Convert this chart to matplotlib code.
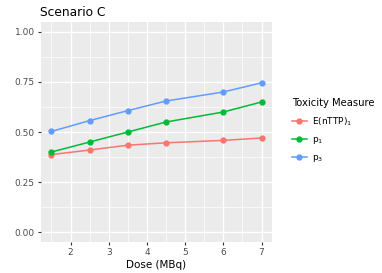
import matplotlib.pyplot as plt
from matplotlib.ticker import FixedLocator

# Data
dose = [1.5, 2.5, 3.5, 4.5, 6, 7]
e_nttp1 = [0.387, 0.410, 0.434, 0.446, 0.458, 0.470]
p1 = [0.400, 0.450, 0.500, 0.550, 0.600, 0.650]
p3 = [0.503, 0.557, 0.607, 0.655, 0.700, 0.746]

labels = [r"E(nTTP)$_1$", r"p$_1$", r"p$_3$"]
colors = ["#F8766D", "#00BA38", "#619CFF"]

fig = plt.figure(figsize=(3.82, 2.73), dpi=100)
ax = fig.add_axes([41 / 382, 31 / 273, 231 / 382, 220 / 273])

ax.set_facecolor("#EBEBEB")
for s in ax.spines.values():
    s.set_visible(False)

handles = []
for y, c, lab in zip([e_nttp1, p1, p3], colors, labels):
    h, = ax.plot(dose, y, color=c, lw=1.1, marker="o", markersize=3.5, label=lab, zorder=3)
    handles.append(h)

ax.set_xlim(1.225, 7.275)
ax.set_ylim(-0.05, 1.05)
ax.set_xticks([2, 3, 4, 5, 6, 7])
ax.set_yticks([0, 0.25, 0.5, 0.75, 1.0])
ax.set_yticklabels(["0.00", "0.25", "0.50", "0.75", "1.00"])
ax.xaxis.set_minor_locator(FixedLocator([1.5, 2.5, 3.5, 4.5, 5.5, 6.5]))
ax.yaxis.set_minor_locator(FixedLocator([0.125, 0.375, 0.625, 0.875]))
ax.grid(True, which="major", color="white", lw=1.0)
ax.grid(True, which="minor", color="white", lw=0.5)
ax.set_axisbelow(True)
ax.tick_params(which="major", length=2.5, width=0.8, color="#333333",
               labelsize=6.5, labelcolor="#4D4D4D", pad=2)
ax.tick_params(which="minor", length=0)

ax.set_xlabel("Dose (MBq)", fontsize=7.5, labelpad=2)
fig.text(40 / 382, 1 - 13 / 273, "Scenario C", fontsize=8.8, va="center", ha="left")

leg = fig.legend(handles=handles, labels=labels, title="Toxicity Measure",
                 loc="upper left", bbox_to_anchor=(284 / 382, 1 - 90 / 273),
                 frameon=False, fontsize=6.5, title_fontsize=7.2,
                 handlelength=1.6, labelspacing=0.8, handletextpad=0.6)
leg._legend_box.align = "left"

fig.savefig("out.png", dpi=100)
